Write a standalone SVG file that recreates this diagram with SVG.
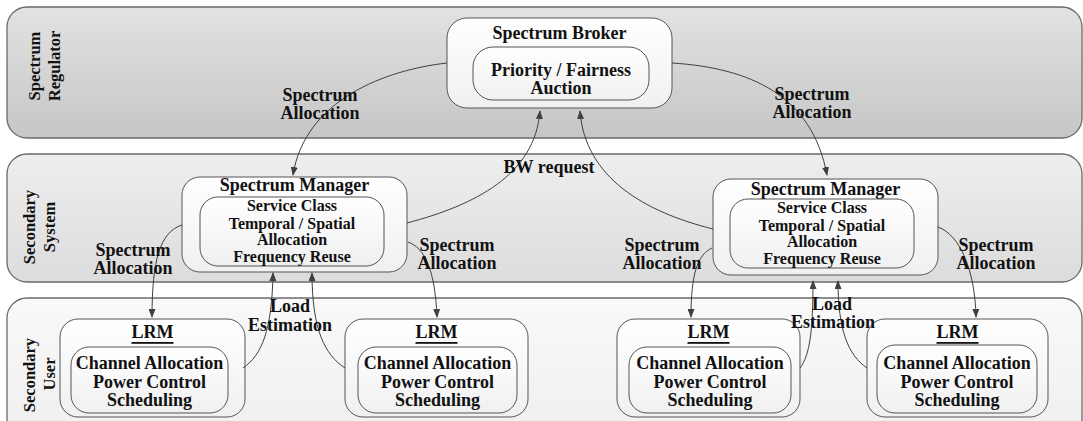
<svg xmlns="http://www.w3.org/2000/svg" width="1083" height="421" viewBox="0 0 1083 421">
<defs>
<linearGradient id="g1" x1="0" y1="0" x2="0" y2="1"><stop offset="0" stop-color="#e2e2e2"/><stop offset="1" stop-color="#c6c6c6"/></linearGradient>
<linearGradient id="g2" x1="0" y1="0" x2="0" y2="1"><stop offset="0" stop-color="#eeeeee"/><stop offset="1" stop-color="#dcdcdc"/></linearGradient>
<linearGradient id="g3" x1="0" y1="0" x2="0" y2="1"><stop offset="0" stop-color="#f9f9f9"/><stop offset="1" stop-color="#efefef"/></linearGradient>
<linearGradient id="gb" x1="0" y1="0" x2="0" y2="1"><stop offset="0" stop-color="#ffffff"/><stop offset="1" stop-color="#f0f0f0"/></linearGradient>
<marker id="arr" markerWidth="9" markerHeight="7" refX="8" refY="3.5" orient="auto" markerUnits="userSpaceOnUse"><path d="M0,0 L9,3.5 L0,7 Z" fill="#404040"/></marker>
<style>
.band{stroke:#6a6a6a;stroke-width:1.3}
.box{fill:url(#gb);stroke:#555;stroke-width:1}
text{font-family:"Liberation Serif","Times New Roman",serif;font-weight:bold;fill:#111;text-anchor:middle;dominant-baseline:central}
.t18{font-size:18px}
.t16{font-size:16px}
.bl{font-size:16.5px}
.c{fill:none;stroke:#404040;stroke-width:1;marker-end:url(#arr)}
</style>
</defs>

<g id="band-regulator">
<rect class="band" x="7" y="7" width="1075" height="131" rx="20" fill="url(#g1)"/>
<text class="bl" transform="translate(34,66) rotate(-90)">Spectrum</text>
<text class="bl" transform="translate(54,66) rotate(-90)">Regulator</text>
</g>
<g id="band-system">
<rect class="band" x="7" y="154" width="1075" height="128" rx="20" fill="url(#g2)"/>
<text class="bl" transform="translate(29,227) rotate(-90)">Secondary</text>
<text class="bl" transform="translate(49,227) rotate(-90)">System</text>
</g>
<g id="band-user">
<rect class="band" x="7" y="298" width="1075" height="140" rx="20" fill="url(#g3)"/>
<text class="bl" transform="translate(29,375) rotate(-90)">Secondary</text>
<text class="bl" transform="translate(49,374) rotate(-90)">User</text>
</g>

<g id="broker">
<rect class="box" x="447" y="18" width="225" height="90" rx="20"/>
<text class="t18" x="559.5" y="33">Spectrum Broker</text>
<rect class="box" x="473" y="47" width="176" height="53" rx="20"/>
<text class="t18" x="561" y="70">Priority / Fairness</text>
<text class="t18" x="561" y="88">Auction</text>
</g>

<g id="sm-left">
<rect class="box" x="182" y="177" width="225" height="95" rx="18"/>
<text class="t18" x="294.5" y="185">Spectrum Manager</text>
<rect class="box" x="200" y="197" width="184" height="69" rx="18"/>
<text class="t16" x="292" y="205">Service Class</text>
<text class="t16" x="292" y="223">Temporal / Spatial</text>
<text class="t16" x="292" y="239">Allocation</text>
<text class="t16" x="292" y="256">Frequency Reuse</text>
</g>

<g id="sm-right">
<rect class="box" x="713" y="179" width="225" height="96" rx="18"/>
<text class="t18" x="825.5" y="189">Spectrum Manager</text>
<rect class="box" x="730" y="199" width="184" height="69" rx="18"/>
<text class="t16" x="822" y="207">Service Class</text>
<text class="t16" x="822" y="225">Temporal / Spatial</text>
<text class="t16" x="822" y="241">Allocation</text>
<text class="t16" x="822" y="258">Frequency Reuse</text>
</g>

<g id="lrm1">
<rect class="box" x="60" y="319" width="185" height="98" rx="18"/>
<text class="t18" x="152.5" y="332" text-decoration="underline">LRM</text>
<rect class="box" x="71" y="347" width="157" height="66" rx="18"/>
<text class="t18" x="149.5" y="363">Channel Allocation</text>
<text class="t18" x="149.5" y="382">Power Control</text>
<text class="t18" x="149.5" y="400">Scheduling</text>
</g>
<g id="lrm2">
<rect class="box" x="345" y="319" width="183" height="98" rx="18"/>
<text class="t18" x="436.5" y="332" text-decoration="underline">LRM</text>
<rect class="box" x="358" y="347" width="159" height="66" rx="18"/>
<text class="t18" x="437.5" y="363">Channel Allocation</text>
<text class="t18" x="437.5" y="382">Power Control</text>
<text class="t18" x="437.5" y="400">Scheduling</text>
</g>
<g id="lrm3">
<rect class="box" x="617" y="319" width="183" height="98" rx="18"/>
<text class="t18" x="708.5" y="332" text-decoration="underline">LRM</text>
<rect class="box" x="629" y="347" width="162" height="66" rx="18"/>
<text class="t18" x="710" y="363">Channel Allocation</text>
<text class="t18" x="710" y="382">Power Control</text>
<text class="t18" x="710" y="400">Scheduling</text>
</g>
<g id="lrm4">
<rect class="box" x="867" y="319" width="181" height="98" rx="18"/>
<text class="t18" x="957.5" y="332" text-decoration="underline">LRM</text>
<rect class="box" x="877" y="345" width="160" height="68" rx="18"/>
<text class="t18" x="957" y="363">Channel Allocation</text>
<text class="t18" x="957" y="382">Power Control</text>
<text class="t18" x="957" y="400">Scheduling</text>
</g>

<g id="connectors">
<path class="c" d="M447,63 C385,70 305,100 293,175"/>
<path class="c" d="M672,63 C750,68 812,95 827,175"/>
<path class="c" d="M407,223 C475,205 535,175 540,111"/>
<path class="c" d="M713,229 C645,212 585,178 580,111"/>
<path class="c" d="M182,225 C160,232 152,260 152,317"/>
<path class="c" d="M408,242 C425,248 435,270 437,317"/>
<path class="c" d="M243,368 C262,355 272,330 273,273"/>
<path class="c" d="M345,368 C325,355 312,330 312,273"/>
<path class="c" d="M712,248 C697,255 691,275 691,317"/>
<path class="c" d="M938,227 C960,235 975,270 976,317"/>
<path class="c" d="M800,368 C810,355 813,330 813,281"/>
<path class="c" d="M867,368 C848,355 838,330 838,281"/>
</g>

<g id="labels">
<text class="t18" x="320" y="95">Spectrum</text>
<text class="t18" x="320" y="113">Allocation</text>
<text class="t18" x="812" y="94">Spectrum</text>
<text class="t18" x="812" y="112">Allocation</text>
<text class="t18" x="549" y="167">BW request</text>
<text class="t18" x="133" y="250">Spectrum</text>
<text class="t18" x="133" y="268">Allocation</text>
<text class="t18" x="457" y="245">Spectrum</text>
<text class="t18" x="457" y="263">Allocation</text>
<text class="t18" x="662" y="245">Spectrum</text>
<text class="t18" x="662" y="263">Allocation</text>
<text class="t18" x="996" y="245">Spectrum</text>
<text class="t18" x="996" y="263">Allocation</text>
<text class="t18" x="290" y="306">Load</text>
<text class="t18" x="290" y="325">Estimation</text>
<text class="t18" x="832" y="304">Load</text>
<text class="t18" x="833" y="322">Estimation</text>
</g>
</svg>
